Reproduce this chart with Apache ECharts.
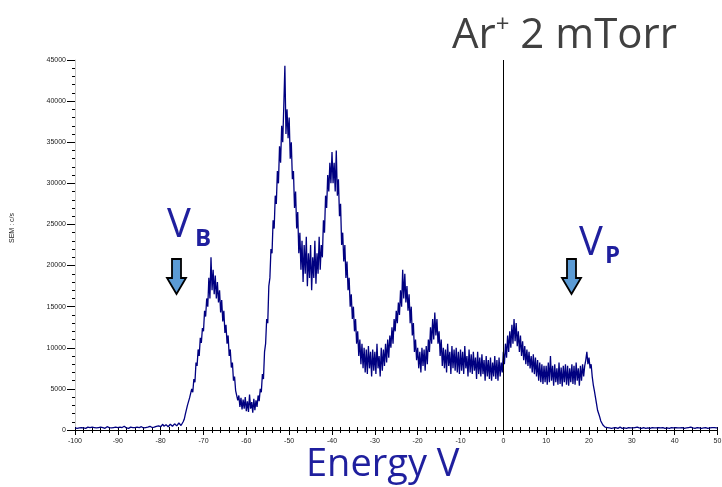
<!DOCTYPE html>
<html>
<head>
<meta charset="utf-8">
<script src="https://cdn.jsdelivr.net/npm/echarts@6/dist/echarts.min.js"></script>
<style>
html,body{margin:0;padding:0;background:#fff;}
#chart{width:722px;height:487px;}
</style>
</head>
<body>
<div id="chart"></div>
<script>
// Energy grid (V): start and step of the recorded samples
const energyStart = -100;
const energyStep = 0.25;
// SEM counts (c/s), one row per 10 V (40 samples)
const countsRows = [
  [250,300,200,350,250,200,300,400,250,300,200,250,350,250,300,200,350,250,300,200,250,400,300,200,350,250,300,250,200,300,400,250,300,200,250,350,300,200,350,250], // -100
  [300,200,350,250,300,250,450,300,250,300,200,300,350,250,300,400,300,250,350,200,300,250,400,300,250,350,300,250,350,300,450,350,300,400,350,300,450,350,500,400], // -90
  [400,600,700,450,500,650,600,400,450,700,650,450,500,750,700,500,550,850,800,550,600,1000,1300,1900,2000,3000,2800,3900,3700,5000,4600,6200,5800,8200,7800,9800,9000,11200,10600,12400], // -80
  [12000,14500,13800,16000,15000,18500,16000,21000,17000,19500,16500,18800,16000,18000,15500,17000,14300,15800,13200,14500,11800,12800,10500,11500,9000,9800,7600,8200,6000,6500,4800,5000,3600,4200,2800,3900,2500,3700,2600,4000], // -70
  [2300,3500,2200,4300,2600,3400,2100,3800,2400,3600,2800,4200,3500,5000,4600,6800,6200,9500,10500,13500,13000,17500,18500,22000,21500,25500,24500,28500,27500,31500,30000,34500,32500,37000,35000,39500,44300,36000,39000,35500], // -60
  [38000,33000,35000,30500,31500,27000,29000,24500,26500,21500,24000,19500,23000,18000,22500,19000,23500,17500,21500,18500,22500,17000,21000,18500,23000,17800,21500,19000,23500,19500,22500,21000,25500,24000,28500,27000,31000,29000,32500,30000], // -50
  [33800,30000,32500,29000,34000,28500,30500,26000,27500,22500,24000,20500,22500,18500,20500,17000,18500,15000,16500,13500,15000,12000,13500,10500,12000,9000,11000,8000,10500,7500,10000,7000,9800,6800,10200,7500,9500,6500,9800,7200], // -40
  [9500,6800,10500,7500,9000,6500,10000,7200,9800,7800,10500,8200,11000,8800,11500,10000,12500,10500,13500,12000,14500,13000,15500,14000,17000,15000,19500,16000,19000,15500,17500,14500,16500,13000,15000,11500,13000,9500,11000,8500], // -30
  [10000,7500,9500,7000,10000,7800,9800,7200,10200,8000,11000,9500,12500,10500,13500,11000,14300,11500,13500,10500,12000,9000,11000,7800,10000,7500,9800,7000,10500,7800,9500,6800,10200,7500,9800,7200,10000,7000,9500,6800], // -20
  [9800,7200,9500,6800,10200,7500,9000,6500,9800,7000,9200,6800,9500,7200,8800,6200,9500,6800,8800,6500,9200,6800,8500,6000,9000,6500,8500,6200,8800,6000,8200,6500,9000,6200,8500,6000,8800,6500,8200,7000], // -10
  [9500,8000,10500,8800,11500,9500,12000,10000,12800,10500,13500,10800,13000,10200,12000,9500,11500,9000,10800,8500,10200,8000,9800,7800,9500,7500,9000,7000,9200,6800,8800,6500,8500,6000,8200,5800,8000,5600,7800,5800], // 0
  [7800,5500,8200,5800,9000,6000,7800,5400,8000,5800,7500,5500,8200,5600,7600,5300,7800,5800,8000,5500,7800,5400,7500,5800,8000,5600,7800,5500,8200,6000,7500,5400,7800,6000,8000,6500,7800,8500,9500,8000], // 10
  [8800,7500,8000,6500,5500,4800,4000,3200,2400,2000,1600,1100,850,600,450,350,250,300,200,250,300,200,350,250,200,300,250,200,300,350,250,200,300,250,300,200,250,300,200,250], // 20
  [300,250,200,300,250,350,200,250,300,200,250,300,250,200,350,250,300,200,250,300,200,250,300,250,200,300,350,250,200,300,250,200,300,250,300,200,250,300,200,250], // 30
  [250,300,200,250,350,250,200,300,250,200,300,250,200,300,250,350,200,250,300,200,250,300,200,250,300,200,350,250,200,300,250,200,300,250,200,300,250,300,200,250], // 40
  [250] // 50
];
const xTicks = {min: -100, max: 50, interval: 10};
const yTicks = {min: 0, max: 45000, interval: 5000};
const titleText = 'Ar';
const titleSup = '+';
const titleRest = ' 2 mTorr';
const xName = 'Energy V';
const yName = 'SEM : c/s';

const counts = [].concat(...countsRows);
const seriesData = counts.map((c, i) => [energyStart + i * energyStep, c]);

const chart = echarts.init(document.getElementById('chart'), null, {renderer: 'canvas'});
const labelFont = {fontFamily: 'Liberation Sans', fontSize: 7, color: '#222'};
const blue = '#1f1f9e';
const arrowFill = '#5b9bd5';

chart.setOption({
  animation: false,
  backgroundColor: '#fff',
  grid: {left: 75, right: 4.5, top: 60, bottom: 57, containLabel: false, outerBoundsMode: 'none'},
  xAxis: [{
    type: 'value', min: xTicks.min, max: xTicks.max, interval: xTicks.interval,
    axisLine: {show: true, onZero: false, lineStyle: {color: '#000', width: 1}},
    axisTick: {show: true, inside: false, length: 5, lineStyle: {color: '#000'}},
    minorTick: {show: true, splitNumber: 5, length: 3, lineStyle: {color: '#000'}},
    axisLabel: Object.assign({margin: 8, formatter: v => String(v)}, labelFont),
    splitLine: {show: false}
  }, {
    type: 'value', min: xTicks.min, max: xTicks.max, interval: xTicks.interval, position: 'bottom',
    axisLine: {show: false, onZero: false},
    axisTick: {show: true, inside: true, length: 3, lineStyle: {color: '#000'}},
    minorTick: {show: true, splitNumber: 5, length: 3, lineStyle: {color: '#000'}},
    axisLabel: {show: false},
    splitLine: {show: false}
  }],
  yAxis: {
    type: 'value', min: yTicks.min, max: yTicks.max, interval: yTicks.interval,
    axisLine: {show: true, onZero: false, lineStyle: {color: '#c8c8c8', width: 1}},
    axisTick: {show: true, inside: false, length: 8, lineStyle: {color: '#000'}},
    minorTick: {show: true, splitNumber: 5, length: 3, lineStyle: {color: '#000'}},
    axisLabel: Object.assign({margin: 9, formatter: v => String(v)}, labelFont),
    splitLine: {show: false}
  },
  series: [{
    type: 'line',
    data: seriesData,
    showSymbol: false,
    symbol: 'none',
    sampling: 'none',
    lineStyle: {color: '#000080', width: 1.3},
    markLine: {
      silent: true, symbol: 'none', animation: false,
      label: {show: false},
      lineStyle: {color: '#000', width: 1, type: 'solid'},
      data: [{xAxis: 0}]
    }
  }],
  graphic: [
    {type: 'text', left: 452, top: 11, style: {
      text: '{a|' + titleText + '}{s|' + titleSup + '}{a|' + titleRest + '}',
      rich: {
        a: {fontFamily: 'Open Sans', fontSize: 42, fill: '#404040', verticalAlign: 'bottom', lineHeight: 46},
        s: {fontFamily: 'Open Sans', fontSize: 24, fill: '#404040', verticalAlign: 'top', lineHeight: 46, padding: [2,0,0,0]}
      }
    }},
    {type: 'text', left: 306, top: 446, style: {text: xName, fontFamily: 'Open Sans', fontSize: 38, fill: blue}},
    {type: 'text', x: 12, y: 228, rotation: Math.PI / 2, style: {text: yName, fontFamily: 'Liberation Sans', fontSize: 7, fill: '#222', align: 'center', verticalAlign: 'middle'}},
    {type: 'text', left: 167, top: 206, style: {text: 'V', fontFamily: 'Open Sans', fontSize: 40, fill: blue}},
    {type: 'text', left: 195, top: 227, style: {text: 'B', fontFamily: 'Open Sans', fontSize: 24, fontWeight: 'bold', fill: blue}},
    {type: 'text', left: 579, top: 224, style: {text: 'V', fontFamily: 'Open Sans', fontSize: 40, fill: blue}},
    {type: 'text', left: 605, top: 244, style: {text: 'P', fontFamily: 'Open Sans', fontSize: 24, fontWeight: 'bold', fill: blue}},
    {type: 'polygon', shape: {points: [[172,259],[181,259],[181,278],[186,278],[176.5,294],[167,278],[172,278]]},
      style: {fill: arrowFill, stroke: '#000', lineWidth: 1.8}},
    {type: 'polygon', shape: {points: [[567,259],[576,259],[576,278],[581,278],[571.5,294],[562,278],[567,278]]},
      style: {fill: arrowFill, stroke: '#000', lineWidth: 1.8}}
  ]
});
</script>
</body>
</html>
